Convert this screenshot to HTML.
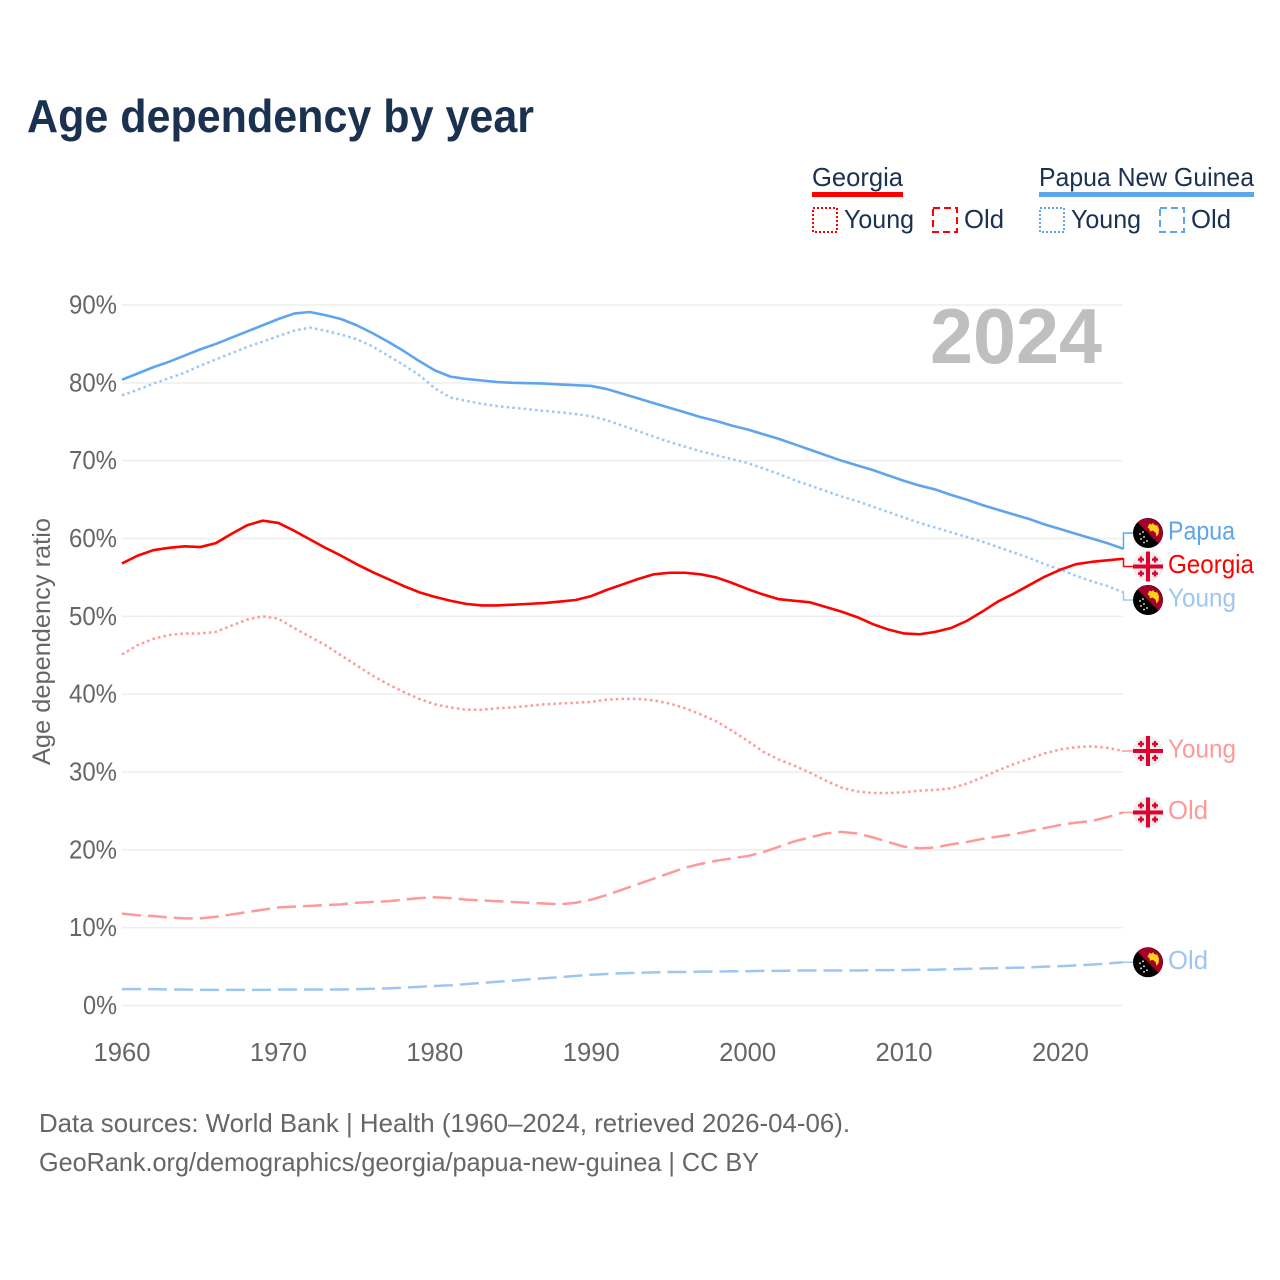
<!DOCTYPE html>
<html lang="en">
<head>
<meta charset="utf-8">
<title>Age dependency by year</title>
<style>
html,body{margin:0;padding:0;background:#fff;width:1280px;height:1280px;overflow:hidden}
svg{display:block}
text{font-family:"Liberation Sans",sans-serif}
</style>
</head>
<body>
<svg id="chart" xmlns="http://www.w3.org/2000/svg" width="1280" height="1280" viewBox="0 0 1280 1280">
  <text x="27" y="132" font-size="46" font-weight="700" fill="#1a3150" textLength="507" lengthAdjust="spacingAndGlyphs">Age dependency by year</text>

  <g>
    <text x="812" y="186" font-size="26" fill="#1a3150" textLength="91" lengthAdjust="spacingAndGlyphs">Georgia</text>
    <rect x="812" y="192" width="91" height="5" fill="#ff0000"/>
    <rect x="813" y="208" width="24" height="24" fill="none" stroke="#ff0000" stroke-width="2" stroke-dasharray="2 2"/>
    <text x="844" y="228" font-size="26" fill="#1a3150" textLength="70" lengthAdjust="spacingAndGlyphs">Young</text>
    <rect x="933" y="208" width="24" height="24" fill="none" stroke="#ff0000" stroke-width="2" stroke-dasharray="7 4"/>
    <text x="964" y="228" font-size="26" fill="#1a3150" textLength="40" lengthAdjust="spacingAndGlyphs">Old</text>

    <text x="1039" y="186" font-size="26" fill="#1a3150" textLength="215" lengthAdjust="spacingAndGlyphs">Papua New Guinea</text>
    <rect x="1039" y="192" width="215" height="5" fill="#5ea5ee"/>
    <rect x="1040" y="208" width="24" height="24" fill="none" stroke="#5ea5ee" stroke-width="2" stroke-dasharray="2 2"/>
    <text x="1071" y="228" font-size="26" fill="#1a3150" textLength="70" lengthAdjust="spacingAndGlyphs">Young</text>
    <rect x="1160" y="208" width="24" height="24" fill="none" stroke="#5ea5ee" stroke-width="2" stroke-dasharray="7 4"/>
    <text x="1191" y="228" font-size="26" fill="#1a3150" textLength="40" lengthAdjust="spacingAndGlyphs">Old</text>
  </g>

  <g id="grid"></g>
  <text x="930" y="363" font-size="78" font-weight="700" fill="#bfbfbf" textLength="172" lengthAdjust="spacingAndGlyphs">2024</text>
  <g id="yticks"></g>
  <g id="xticks"></g>
  <text transform="translate(50 765) rotate(-90)" x="0" y="0" font-size="25" fill="#666666" textLength="247" lengthAdjust="spacingAndGlyphs">Age dependency ratio</text>
  <g id="series"></g>
  <g id="endlabels"></g>

  <text x="39" y="1132" font-size="26" fill="#666666" textLength="811" lengthAdjust="spacingAndGlyphs">Data sources: World Bank | Health (1960–2024, retrieved 2026-04-06).</text>
  <text x="39" y="1171" font-size="26" fill="#666666" textLength="720" lengthAdjust="spacingAndGlyphs">GeoRank.org/demographics/georgia/papua-new-guinea | CC BY</text>
</svg>
<script>
const yTickValues = [0, 10, 20, 30, 40, 50, 60, 70, 80, 90];
const xTickValues = [1960, 1970, 1980, 1990, 2000, 2010, 2020];
const startYear = 1960;

const pngTotal = [
  80.4,81.2,82,82.7,83.5,84.3,85,85.8,86.6,87.4,
  88.2,88.9,89.1,88.7,88.2,87.4,86.4,85.3,84.1,82.8,
  81.6,80.8,80.5,80.3,80.1,80,79.95,79.9,79.8,79.7,
  79.6,79.2,78.6,78,77.4,76.8,76.2,75.6,75.1,74.5,
  74,73.4,72.8,72.1,71.4,70.7,70,69.4,68.8,68.1,
  67.4,66.8,66.3,65.6,65,64.3,63.7,63.1,62.5,61.8,
  61.2,60.6,60,59.4,58.7
];
const pngYoung = [
  78.4,79.1,79.9,80.6,81.3,82.2,83,83.8,84.6,85.3,
  86,86.7,87.1,86.7,86.2,85.6,84.7,83.5,82.3,81,
  79.3,78.1,77.7,77.3,77,76.8,76.6,76.4,76.2,76,
  75.7,75.2,74.5,73.8,73.1,72.4,71.8,71.2,70.7,70.2,
  69.7,69,68.3,67.5,66.8,66.1,65.4,64.8,64.1,63.4,
  62.7,62,61.4,60.8,60.2,59.6,58.9,58.2,57.5,56.7,
  56,55.2,54.5,53.9,53.1
];
const pngOld = [
  2.1,2.1,2.1,2.05,2.05,2,2,2,2,2,
  2.05,2.05,2.05,2.05,2.05,2.1,2.15,2.2,2.3,2.4,
  2.5,2.6,2.75,2.9,3.05,3.2,3.35,3.5,3.65,3.8,
  3.95,4.05,4.15,4.2,4.25,4.3,4.3,4.35,4.35,4.4,
  4.4,4.45,4.45,4.5,4.5,4.5,4.5,4.5,4.55,4.55,
  4.55,4.6,4.6,4.65,4.7,4.75,4.8,4.85,4.9,5,
  5.05,5.15,5.25,5.4,5.55
];
const georgiaTotal = [
  56.8,57.8,58.5,58.8,59,58.9,59.4,60.6,61.7,62.3,
  62,61,59.9,58.8,57.8,56.7,55.7,54.8,53.9,53.1,
  52.5,52,51.6,51.4,51.4,51.5,51.6,51.7,51.9,52.1,
  52.6,53.4,54.1,54.8,55.4,55.6,55.6,55.4,55,54.3,
  53.5,52.8,52.2,52,51.8,51.2,50.6,49.9,49,48.3,
  47.8,47.7,48,48.5,49.4,50.6,51.9,52.9,54,55.1,
  56,56.7,57,57.2,57.4
];
const georgiaYoung = [
  45.1,46.3,47.1,47.6,47.8,47.8,48,48.8,49.6,50,
  49.7,48.5,47.4,46.3,45,43.7,42.4,41.3,40.3,39.4,
  38.7,38.3,38,38,38.2,38.3,38.5,38.7,38.8,38.9,
  39,39.3,39.4,39.4,39.2,38.8,38.2,37.4,36.5,35.3,
  34,32.6,31.6,30.8,29.9,28.9,28,27.5,27.3,27.3,
  27.4,27.6,27.7,27.9,28.5,29.3,30.2,31,31.7,32.4,
  32.9,33.2,33.3,33.1,32.7
];
const georgiaOld = [
  11.8,11.6,11.5,11.3,11.2,11.2,11.4,11.7,12,12.3,
  12.6,12.7,12.8,12.9,13,13.2,13.3,13.4,13.6,13.8,
  13.9,13.8,13.6,13.5,13.4,13.3,13.2,13.1,13,13.2,
  13.6,14.2,14.9,15.6,16.3,17,17.7,18.2,18.6,18.9,
  19.2,19.7,20.4,21.1,21.6,22.1,22.3,22.1,21.6,21,
  20.4,20.2,20.3,20.7,21,21.4,21.7,22,22.4,22.8,
  23.2,23.5,23.7,24.2,24.8
];

const NS = 'http://www.w3.org/2000/svg';
const xScale = year => 122 + (year - 1960) * (1123 - 122) / 64;
const yScale = value => 1005.5 - value * (1005.5 - 305) / 90;

function make(tag, attrs, parent) {
  const el = document.createElementNS(NS, tag);
  for (const k in attrs) el.setAttribute(k, attrs[k]);
  parent.appendChild(el);
  return el;
}

const gridG = document.getElementById('grid');
const yTickG = document.getElementById('yticks');
const xTickG = document.getElementById('xticks');
const seriesG = document.getElementById('series');
const labelG = document.getElementById('endlabels');

yTickValues.forEach(v => {
  const line = make('line', {x1: 122, x2: 1123, y1: yScale(v), y2: yScale(v), stroke: '#eeeeee', 'stroke-width': 1.5}, gridG);
  
  
  const s = v + '%';
  const t = make('text', {x: 117, y: yScale(v) + 8.5, 'text-anchor': 'end', 'font-size': 26, fill: '#666666', textLength: String(v).length * 14 + 20, lengthAdjust: 'spacingAndGlyphs'}, yTickG);
  
  
  t.textContent = s;
});

xTickValues.forEach(v => {
  const t = make('text', {x: xScale(v), y: 1061, 'text-anchor': 'middle', 'font-size': 26, fill: '#666666', textLength: 57, lengthAdjust: 'spacingAndGlyphs'}, xTickG);
  
  
  t.textContent = v;
});

const DOT = '2.5 3.2';
const DASH = '19 7';
const seriesList = [
  {key: 'png-old', values: pngOld, color: '#9ec6f2', dash: DASH, width: 2.5, label: 'Old', flag: 'png', labelWidth: 40},
  {key: 'georgia-old', values: georgiaOld, color: '#ff9999', dash: DASH, width: 2.5, label: 'Old', flag: 'georgia', labelWidth: 40},
  {key: 'georgia-young', values: georgiaYoung, color: '#ff9999', dash: DOT, width: 2.5, label: 'Young', flag: 'georgia', labelWidth: 68},
  {key: 'png-young', values: pngYoung, color: '#9ec6f2', dash: DOT, width: 2.5, label: 'Young', flag: 'png', labelWidth: 68},
  {key: 'georgia-total', values: georgiaTotal, color: '#ff0000', dash: '', width: 2.6, label: 'Georgia', flag: 'georgia', labelWidth: 86},
  {key: 'png-total', values: pngTotal, color: '#5ea5ee', dash: '', width: 2.6, label: 'Papua', flag: 'png', labelWidth: 67}
];

seriesList.forEach(s => {
  const pts = s.values.map((v, i) => xScale(startYear + i).toFixed(2) + ',' + yScale(v).toFixed(2)).join(' ');
  const attrs = {points: pts, fill: 'none', stroke: s.color, 'stroke-width': s.width, 'stroke-linejoin': 'round'};
  if (s.dash) attrs['stroke-dasharray'] = s.dash;
  const line = make('polyline', attrs, seriesG);
  
  
});

/* dodge end labels so the flags do not overlap */
const GAP = 33.5;
const ordered = seriesList.map(s => ({s, end: yScale(s.values[s.values.length - 1])})).sort((a, b) => a.end - b.end);
let clusters = ordered.map(o => ({items: [o], mean: o.end}));
let merged = true;
while (merged) {
  merged = false;
  for (let i = 0; i < clusters.length - 1; i++) {
    const a = clusters[i], b = clusters[i + 1];
    const aBottom = a.mean + (a.items.length - 1) * GAP / 2;
    const bTop = b.mean - (b.items.length - 1) * GAP / 2;
    if (bTop - aBottom < GAP) {
      const items = a.items.concat(b.items);
      const mean = items.reduce((t, o) => t + o.end, 0) / items.length;
      clusters.splice(i, 2, {items, mean});
      merged = true;
      break;
    }
  }
}
clusters.forEach(c => c.items.forEach((o, i) => {
  o.pos = c.mean + (i - (c.items.length - 1) / 2) * GAP;
}));

function drawFlag(kind, cy, parent) {
  const g = make('g', {transform: 'translate(1148 ' + cy + ')'}, parent);
  
  
  if (kind === 'png') {
    make('circle', {r: 15, fill: '#000000'}, g);
    make('path', {d: 'M-10.6 -10.6A15 15 0 0 1 10.6 10.6Z', fill: '#a6002a'}, g);
    make('path', {d: 'M-0.5 -5.5L1.5 -9.5L3.5 -8.5L5 -10L6.5 -8L9.5 -7.5L11 -3.5L10.5 1L8.5 3.5L7.5 -0.5L4.5 -2.5L2 -1.5L1.5 -4Z', fill: '#fcd116'}, g);
    [[-8, 1], [-5, -1], [-4, 4], [-7, 6], [-4, 9.5], [-1, 8]].forEach(p => {
      make('circle', {cx: p[0], cy: p[1], r: 0.9, fill: '#ffffff'}, g);
    });
  } else {
    make('circle', {r: 15, fill: '#eeeeee'}, g);
    make('rect', {x: -2, y: -15, width: 4, height: 30, fill: '#e0002d'}, g);
    make('rect', {x: -15, y: -2, width: 30, height: 4, fill: '#e0002d'}, g);
    [[-7, -7], [7, -7], [-7, 7], [7, 7]].forEach(p => {
      make('rect', {x: p[0] - 1.2, y: p[1] - 3, width: 2.4, height: 6, fill: '#e0002d'}, g);
      make('rect', {x: p[0] - 3, y: p[1] - 1.2, width: 6, height: 2.4, fill: '#e0002d'}, g);
    });
  }
}

ordered.forEach(o => {
  const s = o.s;
  const connector = make('polyline', {points: '1122,' + o.end + ' 1123.5,' + o.end + ' 1123.5,' + o.pos + ' 1133,' + o.pos, fill: 'none', stroke: s.color, 'stroke-width': 1.5}, labelG);
  
  
  drawFlag(s.flag, o.pos, labelG);
  const t = make('text', {x: 1168, y: o.pos + 6.5, 'font-size': 26, fill: s.color, textLength: s.labelWidth, lengthAdjust: 'spacingAndGlyphs'}, labelG);
  
  
  t.textContent = s.label;
});
</script>
</body>
</html>
